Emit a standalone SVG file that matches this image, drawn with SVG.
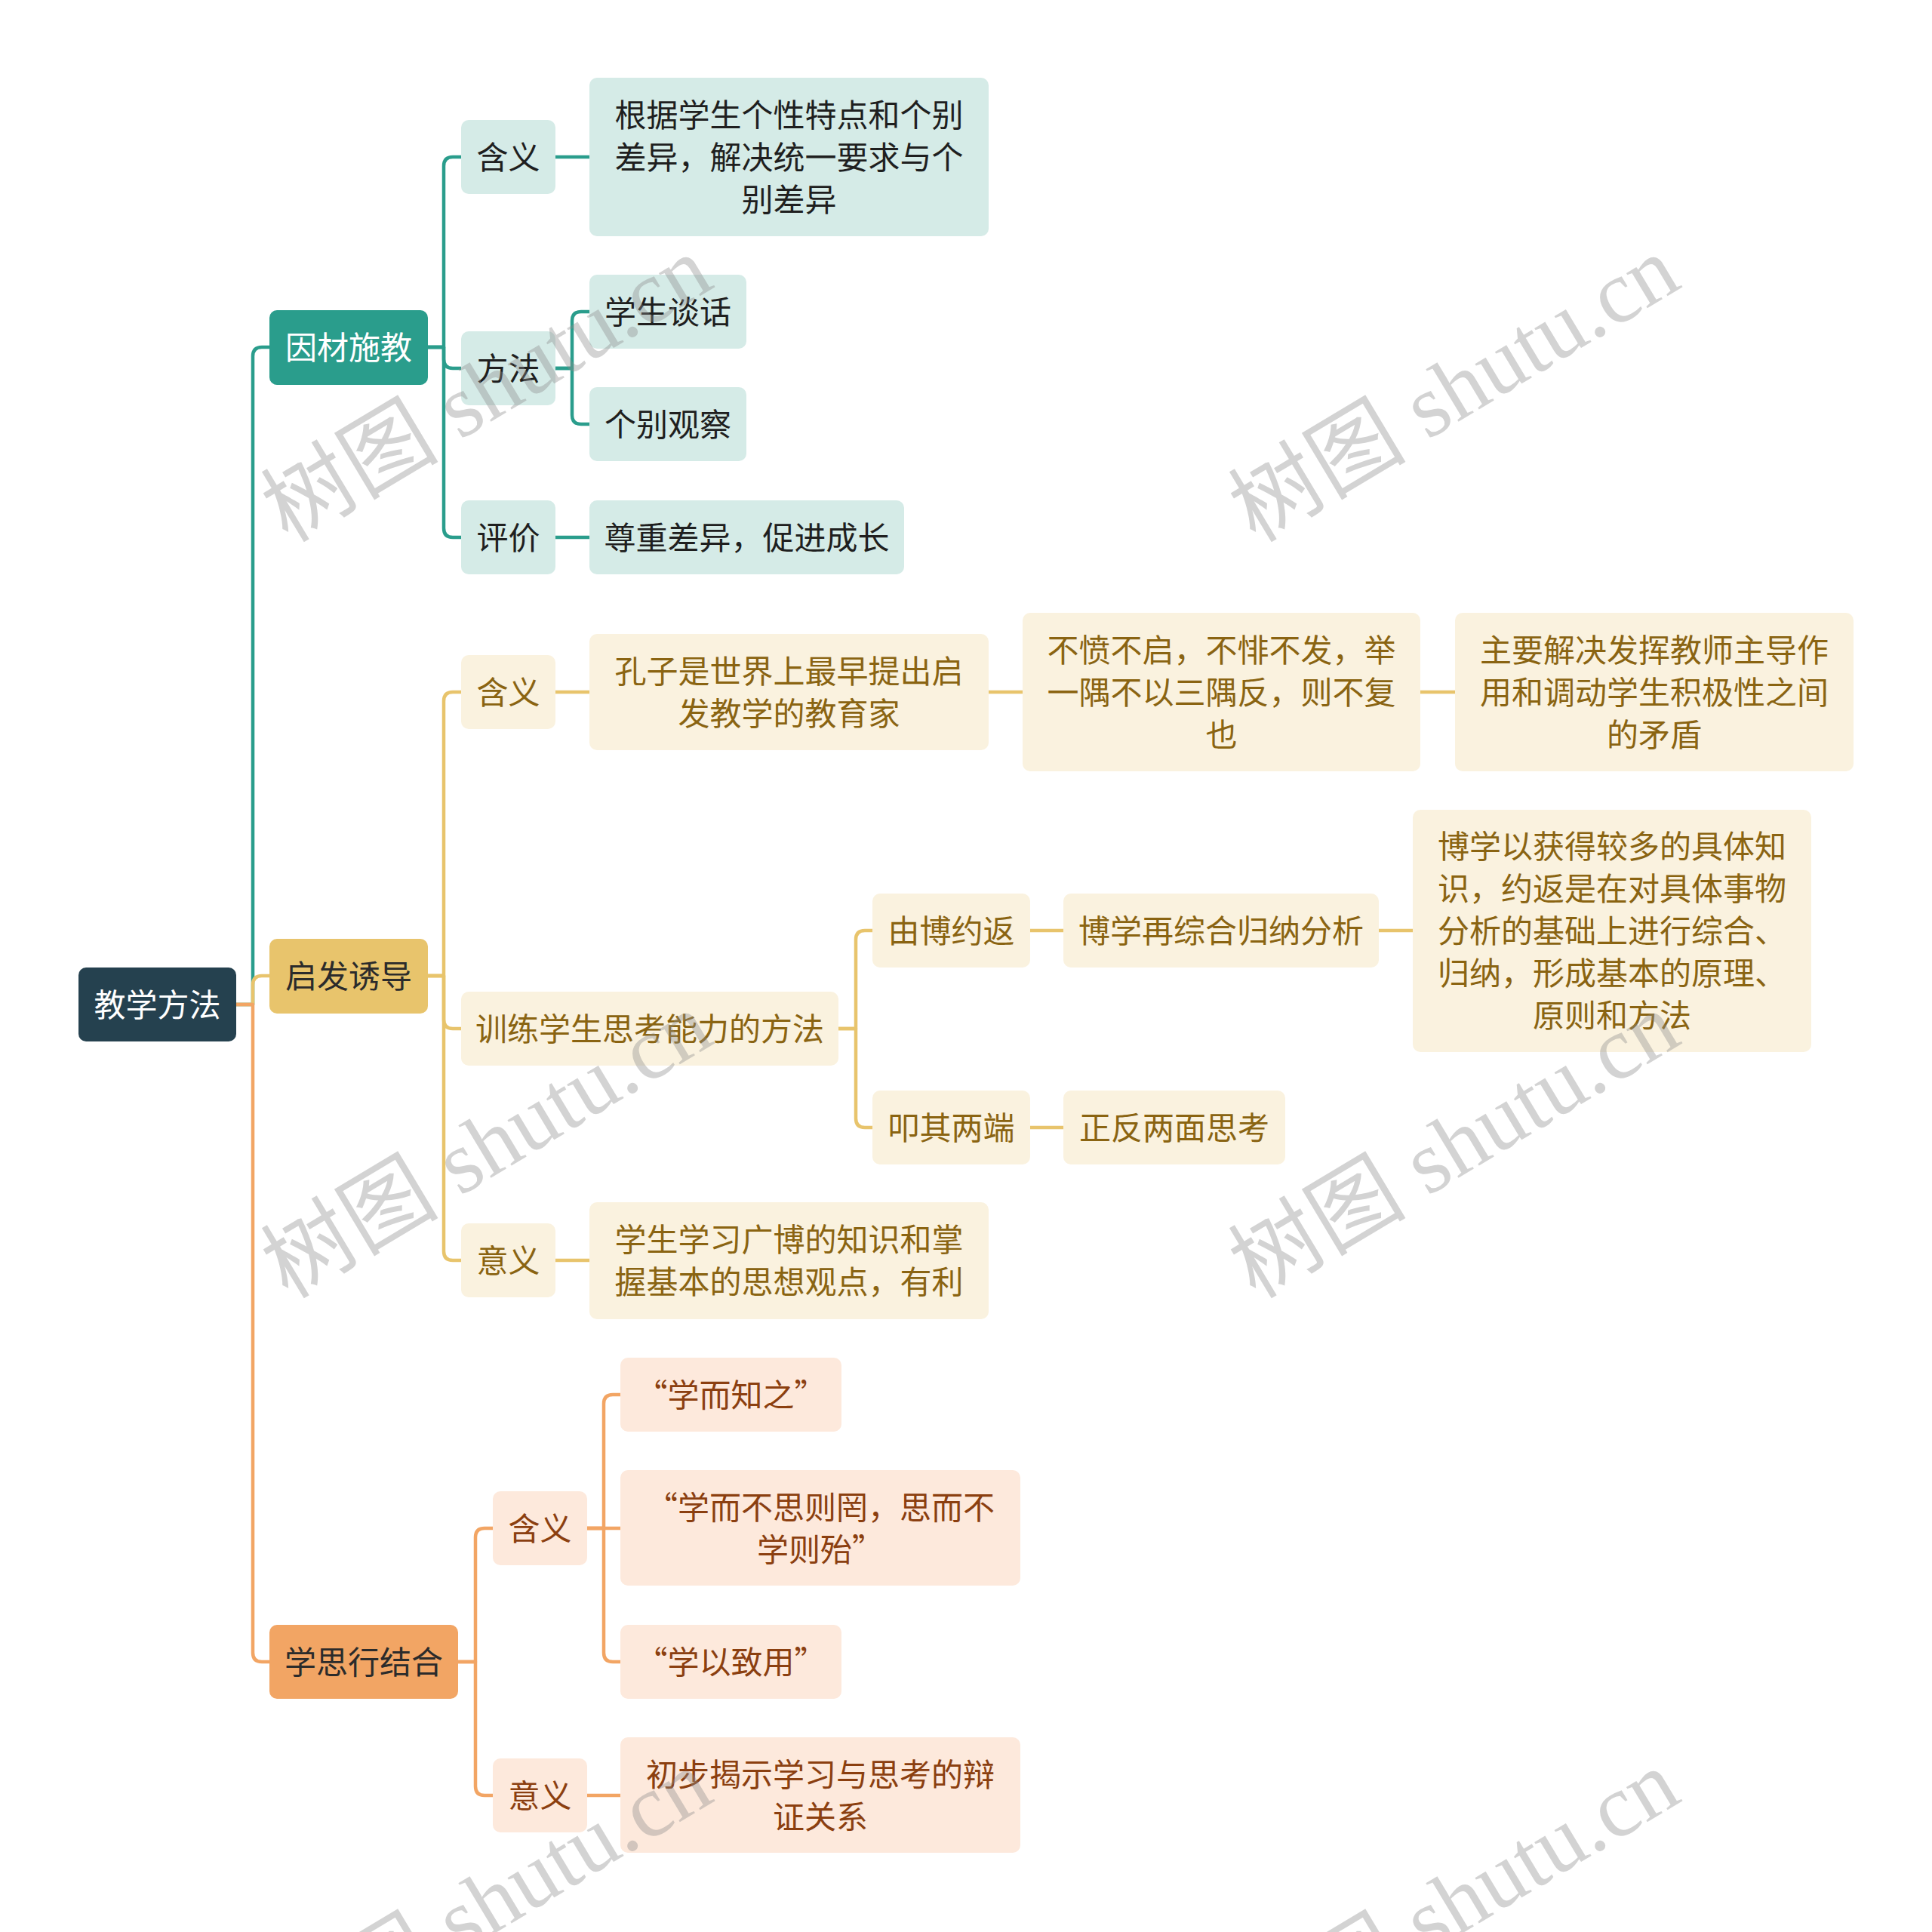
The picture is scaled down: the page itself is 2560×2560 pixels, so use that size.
<svg xmlns="http://www.w3.org/2000/svg" width="2560" height="2560" viewBox="0 0 2560 2560">
<style>
text{font-family:"Noto Sans CJK SC","Noto Sans",sans-serif;font-size:42px;text-anchor:middle;dominant-baseline:central}
.n text{transform:translateY(-3px)}
.c{fill:none;stroke-width:4.5;stroke-linecap:round;stroke-linejoin:round}
.ct{stroke:#2a9d8c}.cy{stroke:#e8c46c}.co{stroke:#f2a564}
.ft{fill:#d5ebe7}.fy{fill:#faf2df}.fo{fill:#fde9dc}
.tt{fill:#1f1f1f}.ty{fill:#8a6412}.to{fill:#8b3f10}
.wm{font-family:"Liberation Serif","Noto Sans CJK SC",serif;font-size:118px;fill:#8c8c8c;fill-opacity:0.38}
</style>
<rect width="2560" height="2560" fill="#ffffff"/>
<g id="connectors">
<path class="c ct" d="M312,1331 H335 V472 Q335,460 347,460 H357"/>
<path class="c cy" d="M312,1331 H335 V1305 Q335,1293 347,1293 H357"/>
<path class="c co" d="M312,1331 H335 V2190 Q335,2202 347,2202 H357"/>
<path class="c ct" d="M567,460 H588 V220 Q588,208 600,208 H611"/>
<path class="c ct" d="M567,460 H588 V476 Q588,488 600,488 H611"/>
<path class="c ct" d="M567,460 H588 V700 Q588,712 600,712 H611"/>
<path class="c ct" d="M736,208 H781"/>
<path class="c ct" d="M736,488 H758 V425 Q758,413 770,413 H781"/>
<path class="c ct" d="M736,488 H758 V550 Q758,562 770,562 H781"/>
<path class="c ct" d="M736,712 H781"/>
<path class="c cy" d="M567,1293 H588 V929 Q588,917 600,917 H611"/>
<path class="c cy" d="M567,1293 H588 V1351 Q588,1363 600,1363 H611"/>
<path class="c cy" d="M567,1293 H588 V1658 Q588,1670 600,1670 H611"/>
<path class="c cy" d="M736,917 H781"/>
<path class="c cy" d="M1310,917 H1355"/>
<path class="c cy" d="M1882,917 H1928"/>
<path class="c cy" d="M1111,1363 H1134 V1245 Q1134,1233 1146,1233 H1156"/>
<path class="c cy" d="M1111,1363 H1134 V1482 Q1134,1494 1146,1494 H1156"/>
<path class="c cy" d="M1365,1233 H1409"/>
<path class="c cy" d="M1827,1233 H1872"/>
<path class="c cy" d="M1365,1494 H1409"/>
<path class="c cy" d="M736,1670 H781"/>
<path class="c co" d="M607,2202 H630 V2037 Q630,2025 642,2025 H653"/>
<path class="c co" d="M607,2202 H630 V2367 Q630,2379 642,2379 H653"/>
<path class="c co" d="M778,2025 H800 V1860 Q800,1848 812,1848 H822"/>
<path class="c co" d="M778,2025 H822"/>
<path class="c co" d="M778,2025 H800 V2190 Q800,2202 812,2202 H822"/>
<path class="c co" d="M778,2379 H822"/>
</g>
<g id="root" class="n"><rect x="104" y="1282" width="209" height="98" rx="10" fill="#25414f"/><text x="208.5" y="1331" fill="#ffffff">教学方法</text></g>
<g id="n1" class="n"><rect x="357" y="411" width="210" height="99" rx="10" fill="#2a9d8c"/><text x="462" y="460.5" fill="#ffffff">因材施教</text></g>
<g id="n2" class="n"><rect x="357" y="1244" width="210" height="99" rx="10" fill="#e8c46c"/><text x="462" y="1293.5" fill="#2b2b2b">启发诱导</text></g>
<g id="n3" class="n"><rect x="357" y="2153" width="250" height="98" rx="10" fill="#f2a564"/><text x="482" y="2202" fill="#2b2b2b">学思行结合</text></g>

<g id="n1a" class="n"><rect class="ft" x="611" y="159" width="125" height="98" rx="10"/><text class="tt" x="673.5" y="208">含义</text></g>
<g id="n1a1" class="n"><rect class="ft" x="781" y="103" width="529" height="210" rx="10"/><text class="tt" x="1045.5" y="152">根据学生个性特点和个别</text><text class="tt" x="1045.5" y="208">差异，解决统一要求与个</text><text class="tt" x="1045.5" y="264">别差异</text></g>
<g id="n1b" class="n"><rect class="ft" x="611" y="439" width="125" height="98" rx="10"/><text class="tt" x="673.5" y="488">方法</text></g>
<g id="n1b1" class="n"><rect class="ft" x="781" y="364" width="208" height="98" rx="10"/><text class="tt" x="885" y="413">学生谈话</text></g>
<g id="n1b2" class="n"><rect class="ft" x="781" y="513" width="208" height="98" rx="10"/><text class="tt" x="885" y="562">个别观察</text></g>
<g id="n1c" class="n"><rect class="ft" x="611" y="663" width="125" height="98" rx="10"/><text class="tt" x="673.5" y="712">评价</text></g>
<g id="n1c1" class="n"><rect class="ft" x="781" y="663" width="417" height="98" rx="10"/><text class="tt" x="989.5" y="712">尊重差异，促进成长</text></g>

<g id="n2a" class="n"><rect class="fy" x="611" y="868" width="125" height="98" rx="10"/><text class="ty" x="673.5" y="917">含义</text></g>
<g id="n2a1" class="n"><rect class="fy" x="781" y="840" width="529" height="154" rx="10"/><text class="ty" x="1045.5" y="889">孔子是世界上最早提出启</text><text class="ty" x="1045.5" y="945">发教学的教育家</text></g>
<g id="n2a2" class="n"><rect class="fy" x="1355" y="812" width="527" height="210" rx="10"/><text class="ty" x="1618.5" y="861">不愤不启，不悱不发，举</text><text class="ty" x="1618.5" y="917">一隅不以三隅反，则不复</text><text class="ty" x="1618.5" y="973">也</text></g>
<g id="n2a3" class="n"><rect class="fy" x="1928" y="812" width="528" height="210" rx="10"/><text class="ty" x="2192" y="861">主要解决发挥教师主导作</text><text class="ty" x="2192" y="917">用和调动学生积极性之间</text><text class="ty" x="2192" y="973">的矛盾</text></g>
<g id="n2b" class="n"><rect class="fy" x="611" y="1314" width="500" height="98" rx="10"/><text class="ty" x="861" y="1363">训练学生思考能力的方法</text></g>
<g id="n2b1" class="n"><rect class="fy" x="1156" y="1184" width="209" height="98" rx="10"/><text class="ty" x="1260.5" y="1233">由博约返</text></g>
<g id="n2b1a" class="n"><rect class="fy" x="1409" y="1184" width="418" height="98" rx="10"/><text class="ty" x="1618" y="1233">博学再综合归纳分析</text></g>
<g id="n2b1b" class="n"><rect class="fy" x="1872" y="1073" width="528" height="321" rx="10"/><text class="ty" x="2136" y="1121">博学以获得较多的具体知</text><text class="ty" x="2136" y="1177">识，约返是在对具体事物</text><text class="ty" x="2136" y="1233">分析的基础上进行综合、</text><text class="ty" x="2136" y="1289">归纳，形成基本的原理、</text><text class="ty" x="2136" y="1345">原则和方法</text></g>
<g id="n2b2" class="n"><rect class="fy" x="1156" y="1445" width="209" height="98" rx="10"/><text class="ty" x="1260.5" y="1494">叩其两端</text></g>
<g id="n2b2a" class="n"><rect class="fy" x="1409" y="1445" width="294" height="98" rx="10"/><text class="ty" x="1556" y="1494">正反两面思考</text></g>
<g id="n2c" class="n"><rect class="fy" x="611" y="1621" width="125" height="98" rx="10"/><text class="ty" x="673.5" y="1670">意义</text></g>
<g id="n2c1" class="n"><rect class="fy" x="781" y="1593" width="529" height="155" rx="10"/><text class="ty" x="1045.5" y="1642">学生学习广博的知识和掌</text><text class="ty" x="1045.5" y="1698">握基本的思想观点，有利</text></g>

<g id="n3a" class="n"><rect class="fo" x="653" y="1976" width="125" height="98" rx="10"/><text class="to" x="715.5" y="2025">含义</text></g>
<g id="n3a1" class="n"><rect class="fo" x="822" y="1799" width="293" height="98" rx="10"/><text class="to" x="968.5" y="1848">“学而知之”</text></g>
<g id="n3a2" class="n"><rect class="fo" x="822" y="1948" width="530" height="153" rx="10"/><text class="to" x="1087" y="1997">“学而不思则罔，思而不</text><text class="to" x="1087" y="2053">学则殆”</text></g>
<g id="n3a3" class="n"><rect class="fo" x="822" y="2153" width="293" height="98" rx="10"/><text class="to" x="968.5" y="2202">“学以致用”</text></g>
<g id="n3b" class="n"><rect class="fo" x="653" y="2330" width="125" height="98" rx="10"/><text class="to" x="715.5" y="2379">意义</text></g>
<g id="n3b1" class="n"><rect class="fo" x="822" y="2302" width="530" height="153" rx="10"/><text class="to" x="1087" y="2351">初步揭示学习与思考的辩</text><text class="to" x="1087" y="2407">证关系</text></g>

<g id="watermarks">
<text class="wm" transform="translate(645,516) rotate(-31)">树图 shutu.cn</text>
<text class="wm" transform="translate(1927,516) rotate(-31)">树图 shutu.cn</text>
<text class="wm" transform="translate(645,1518) rotate(-31)">树图 shutu.cn</text>
<text class="wm" transform="translate(1927,1518) rotate(-31)">树图 shutu.cn</text>
<text class="wm" transform="translate(645,2522) rotate(-31)">树图 shutu.cn</text>
<text class="wm" transform="translate(1927,2522) rotate(-31)">树图 shutu.cn</text>
</g>
</svg>
